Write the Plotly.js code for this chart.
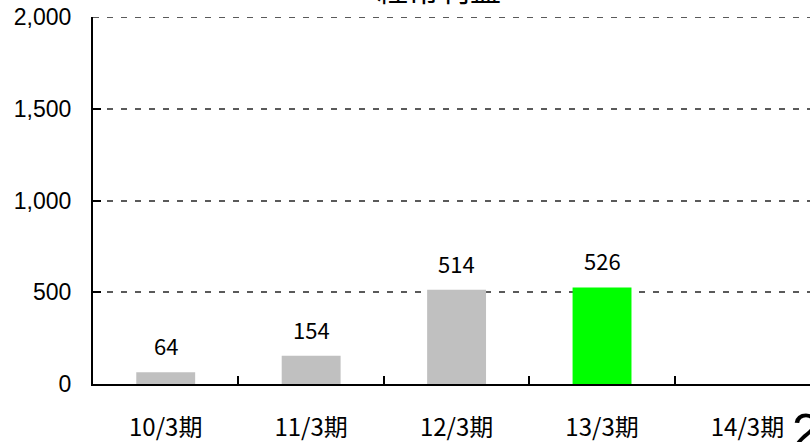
<!DOCTYPE html>
<html>
<head>
<meta charset="utf-8">
<script src="https://cdn.plot.ly/plotly-3.0.1.min.js"></script>
<style>html,body{margin:0;padding:0;background:#fff;}#chart{width:810px;height:442px;}</style>
</head>
<body>
<div id="chart"></div>
<script>
const categories = ["10/3期", "11/3期", "12/3期", "13/3期", "14/3期"];
const values = [64, 154, 514, 526, null];
const barColors = ["#C0C0C0", "#C0C0C0", "#C0C0C0", "#00FF00", "#C0C0C0"];
const valueLabels = ["64", "154", "514", "526", ""];
const yTickVals = [0, 500, 1000, 1500, 2000];
const yTickText = ["0", "500", "1,000", "1,500", "2,000"];
const chartTitle = "経常利益";
const pageNumber = "2";

const jp = '"Noto Sans CJK JP", "Noto Sans", sans-serif';
const gridColor = "#5a5a5a";

const trace = {
  type: "bar",
  x: categories,
  y: values,
  marker: { color: barColors, line: { width: 0 } },
  width: 0.405,
  hoverinfo: "skip"
};

const annotations = categories.map((c, i) => ({
  x: c, y: values[i] === null ? 0 : values[i],
  xref: "x", yref: "y",
  text: valueLabels[i],
  showarrow: false,
  yanchor: "middle",
  yshift: 27,
  font: { family: jp, size: 22, color: "#000" }
})).filter(a => a.text !== "");

annotations.push({
  text: pageNumber,
  xref: "paper", yref: "paper",
  x: 1.0, y: 0, xanchor: "left", yanchor: "top",
  xshift: -20, yshift: -18,
  showarrow: false,
  font: { family: '"Liberation Sans", Arial, sans-serif', size: 50, color: "#000" }
});

annotations.push({
  text: chartTitle,
  xref: "paper", yref: "paper",
  x: 0.482, y: 1, xanchor: "center", yanchor: "middle",
  yshift: 30,
  showarrow: false,
  font: { family: jp, size: 31, color: "#000" }
});

const topVal = yTickVals[yTickVals.length - 1];
const shapes = [{
  type: "line", xref: "paper", yref: "y",
  x0: 0, x1: 1, y0: topVal, y1: topVal,
  line: { color: gridColor, width: 2, dash: "6px,8px" },
  layer: "below"
}];

const layout = {
  width: 810, height: 442,
  margin: { l: 93, r: 0, t: 17, b: 58, pad: 0 },
  paper_bgcolor: "#fff",
  plot_bgcolor: "#fff",
  showlegend: false,
  xaxis: {
    type: "category",
    range: [-0.5, 4.43],
    showline: true, linecolor: "#000", linewidth: 2,
    ticks: "inside", tickson: "boundaries", ticklen: 8, tickwidth: 2, tickcolor: "#000",
    ticklabelstandoff: 21,
    showgrid: false, zeroline: false,
    tickfont: { family: jp, size: 24, color: "#000" }
  },
  yaxis: {
    range: [0, 2000],
    tickvals: yTickVals, ticktext: yTickText,
    showline: true, linecolor: "#000", linewidth: 2,
    ticks: "inside", ticklen: 8, tickwidth: 2, tickcolor: "#000",
    ticklabelstandoff: 15,
    showgrid: true, gridcolor: gridColor, gridwidth: 2, griddash: "6px,8px",
    zeroline: false,
    tickfont: { family: '"Liberation Sans", Arial, sans-serif', size: 23, color: "#000" }
  },
  shapes: shapes,
  annotations: annotations
};

Plotly.newPlot("chart", [trace], layout, { staticPlot: true, displayModeBar: false });
</script>
</body>
</html>
